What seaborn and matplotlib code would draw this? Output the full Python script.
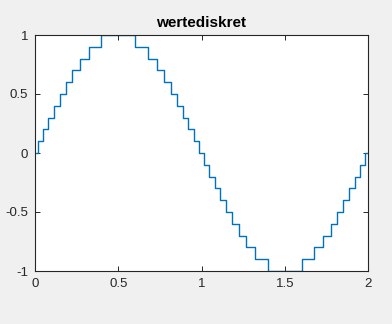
import matplotlib
matplotlib.use("Agg")
import matplotlib.pyplot as plt
import seaborn as sns
import pandas as pd

# Times (s) where the quantised signal changes level
change_times = [0.016, 0.048, 0.080, 0.114, 0.149, 0.185, 0.225, 0.270, 0.323, 0.399,
                0.601, 0.677, 0.730, 0.775, 0.815, 0.851, 0.886, 0.920, 0.952, 0.984,
                1.016, 1.048, 1.080, 1.114, 1.149, 1.185, 1.225, 1.270, 1.323, 1.399,
                1.601, 1.677, 1.730, 1.775, 1.815, 1.851, 1.886, 1.920, 1.952, 1.984]
# Level held from each start time (first level starts at 0)
levels = [0.0, 0.1, 0.2, 0.3, 0.4, 0.5, 0.6, 0.7, 0.8, 0.9, 1.0,
          0.9, 0.8, 0.7, 0.6, 0.5, 0.4, 0.3, 0.2, 0.1, 0.0,
          -0.1, -0.2, -0.3, -0.4, -0.5, -0.6, -0.7, -0.8, -0.9, -1.0,
          -0.9, -0.8, -0.7, -0.6, -0.5, -0.4, -0.3, -0.2, -0.1, 0.0]
t_start, t_end = 0.0, 2.0
x_ticks = [0, 0.5, 1, 1.5, 2]
x_ticklabels = ["0", "0.5", "1", "1.5", "2"]
y_ticks = [-1, -0.5, 0, 0.5, 1]
y_ticklabels = ["-1", "-0.5", "0", "0.5", "1"]
title = "wertediskret"

sns.set_style("white")
plt.rcParams["font.family"] = ["Liberation Sans", "DejaVu Sans"]

xs = [t_start] + change_times + [t_end]
ys = levels + [levels[-1]]
df = pd.DataFrame({"t": xs, "y": ys})

fig = plt.figure(figsize=(3.92, 3.24), dpi=100, facecolor="#F0F0F0")
ax = fig.add_axes([35/392, 1 - 271/324, 333/392, 236/324])
ax.set_facecolor("white")
sns.lineplot(data=df, x="t", y="y", ax=ax, drawstyle="steps-post",
             color="#0072BD", linewidth=1.0, estimator=None, sort=False)
ax.set_xlim(0, 2)
ax.set_ylim(-1, 1)
ax.set_xticks(x_ticks)
ax.set_xticklabels(x_ticklabels)
ax.set_yticks(y_ticks)
ax.set_yticklabels(y_ticklabels)
ax.set_xlabel("")
ax.set_ylabel("")
ax.tick_params(direction="in", length=3.5, width=0.7, color="#262626",
               labelsize=9.5, labelcolor="#262626", top=True, right=True,
               bottom=True, left=True, pad=5)
for s in ax.spines.values():
    s.set_visible(True)
    s.set_color("#262626")
    s.set_linewidth(0.8)
ax.set_title(title, fontsize=11, fontweight="bold", color="black", pad=6)
fig.savefig("out.png", dpi=100, facecolor="#F0F0F0")
